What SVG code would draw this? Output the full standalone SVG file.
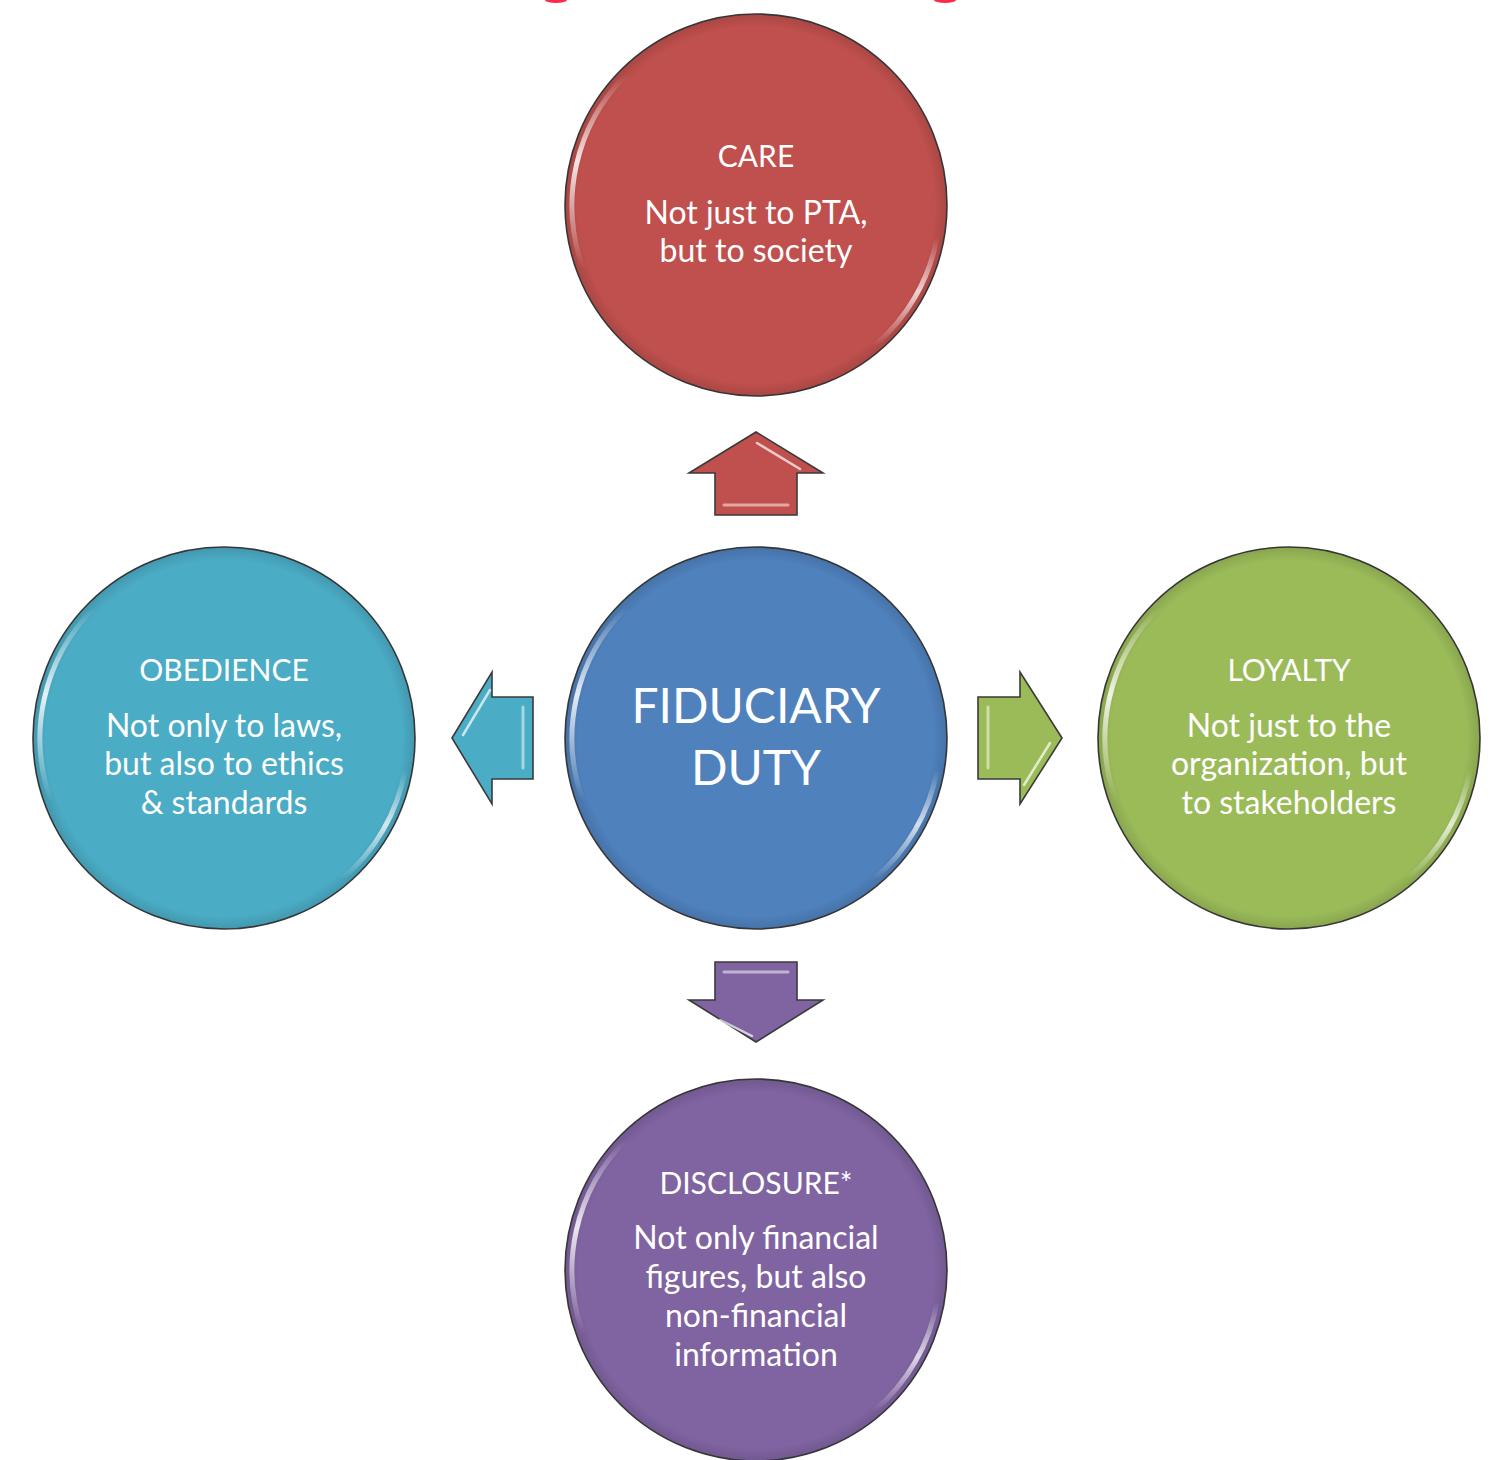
<svg xmlns="http://www.w3.org/2000/svg" width="1491" height="1460" viewBox="0 0 1491 1460">
<defs>
<style>
.ring{stroke:#3a3a3a;stroke-width:1.6}
.t{font-family:Lato,"Open Sans","Liberation Sans",sans-serif;fill:#ffffff;text-anchor:middle}
.h{font-size:30px}
.b{font-size:32px}
.big{font-size:48px}
.arr{stroke:#3a3a3a;stroke-width:1.6;stroke-linejoin:miter}
.hl{fill:none;stroke:#ffffff;stroke-linecap:round}
.gL{fill:none;stroke:url(#gl);stroke-linecap:round}
.gR{fill:none;stroke:url(#gr);stroke-linecap:round}
</style>
<linearGradient id="gl" x1="0" y1="0" x2="0" y2="1">
<stop offset="0" stop-color="#fff" stop-opacity="0"/>
<stop offset="0.45" stop-color="#fff" stop-opacity="0.85"/>
<stop offset="1" stop-color="#fff" stop-opacity="0"/>
</linearGradient>
<linearGradient id="gr" x1="0" y1="0" x2="0" y2="1">
<stop offset="0" stop-color="#fff" stop-opacity="0"/>
<stop offset="0.5" stop-color="#fff" stop-opacity="0.75"/>
<stop offset="1" stop-color="#fff" stop-opacity="0"/>
</linearGradient>
<radialGradient id="rim" cx="0.5" cy="0.5" r="0.5">
<stop offset="0.93" stop-color="#000" stop-opacity="0"/>
<stop offset="1" stop-color="#000" stop-opacity="0.12"/>
</radialGradient>
</defs>
<rect width="1491" height="1460" fill="#ffffff"/>
<ellipse cx="556" cy="0" rx="11" ry="3" fill="#ff2a4a"/>
<ellipse cx="945" cy="0" rx="11" ry="3" fill="#ff2a4a"/>

<g id="connectors">
<g id="arrow-up">
<polygon class="arr" fill="#c0504d" points="756,432 823,473 797,473 797,515 715,515 715,473 689,473"/>
<path class="hl" stroke-width="2.5" opacity="0.7" d="M757,443 L800,469"/>
<path class="hl" stroke-width="3" opacity="0.5" d="M724,505 L788,505"/>
</g>
<g id="arrow-left">
<polygon class="arr" fill="#4bacc6" points="452,738 492,672 492,697 533,697 533,779 492,779 492,804"/>
<path class="hl" stroke-width="2.5" opacity="0.7" d="M463,735 L490,690"/>
<path class="hl" stroke-width="3" opacity="0.5" d="M523,707 L523,768"/>
</g>
<g id="arrow-right">
<polygon class="arr" fill="#9bbb59" points="1062,738 1020,672 1020,697 978,697 978,779 1020,779 1020,804"/>
<path class="hl" stroke-width="2.5" opacity="0.7" d="M1050,743 L1024,785"/>
<path class="hl" stroke-width="3" opacity="0.5" d="M988,707 L988,768"/>
</g>
<g id="arrow-down">
<polygon class="arr" fill="#8064a2" points="756,1042 823,1000 797,1000 797,962 715,962 715,1000 689,1000"/>
<path class="hl" stroke-width="2.5" opacity="0.7" d="M720,1020 L752,1036"/>
<path class="hl" stroke-width="3" opacity="0.5" d="M724,972 L788,972"/>
</g>
</g>

<g id="care">
<circle class="ring" cx="756" cy="205" r="191" fill="#c0504d"/>
<circle cx="756" cy="205" r="191" fill="url(#rim)"/>
<path class="gL" stroke-width="5" d="M626,75 A184,184 0 0 0 583,268"/>
<path class="gR" stroke-width="5" d="M937,237 A184,184 0 0 1 874,346"/>
<text class="t h" x="756" y="167">CARE</text>
<text class="t b" x="756" y="224">Not just to PTA,</text>
<text class="t b" x="756" y="262">but to society</text>
</g>

<g id="fiduciary-duty">
<circle class="ring" cx="756" cy="738" r="191" fill="#4f81bd"/>
<circle cx="756" cy="738" r="191" fill="url(#rim)"/>
<path class="gL" stroke-width="5" d="M626,608 A184,184 0 0 0 583,801"/>
<path class="gR" stroke-width="5" d="M937,770 A184,184 0 0 1 874,879"/>
<text class="t big" x="756" y="723">FIDUCIARY</text>
<text class="t big" x="756" y="785">DUTY</text>
</g>

<g id="obedience">
<circle class="ring" cx="224" cy="738" r="191" fill="#4bacc6"/>
<circle cx="224" cy="738" r="191" fill="url(#rim)"/>
<path class="gL" stroke-width="5" d="M94,608 A184,184 0 0 0 51,801"/>
<path class="gR" stroke-width="5" d="M405,770 A184,184 0 0 1 342,879"/>
<text class="t h" x="224" y="681">OBEDIENCE</text>
<text class="t b" x="224" y="737">Not only to laws,</text>
<text class="t b" x="224" y="775">but also to ethics</text>
<text class="t b" x="224" y="814">&amp; standards</text>
</g>

<g id="loyalty">
<circle class="ring" cx="1289" cy="738" r="191" fill="#9bbb59"/>
<circle cx="1289" cy="738" r="191" fill="url(#rim)"/>
<path class="gL" stroke-width="5" d="M1159,608 A184,184 0 0 0 1116,801"/>
<path class="gR" stroke-width="5" d="M1470,770 A184,184 0 0 1 1407,879"/>
<text class="t h" x="1289" y="681">LOYALTY</text>
<text class="t b" x="1289" y="737">Not just to the</text>
<text class="t b" x="1289" y="775">organization, but</text>
<text class="t b" x="1289" y="814">to stakeholders</text>
</g>

<g id="disclosure">
<circle class="ring" cx="756" cy="1270" r="191" fill="#8064a2"/>
<circle cx="756" cy="1270" r="191" fill="url(#rim)"/>
<path class="gL" stroke-width="5" d="M626,1140 A184,184 0 0 0 583,1333"/>
<path class="gR" stroke-width="5" d="M937,1302 A184,184 0 0 1 874,1411"/>
<text class="t h" x="756" y="1194">DISCLOSURE*</text>
<text class="t b" x="756" y="1249">Not only financial</text>
<text class="t b" x="756" y="1288">figures, but also</text>
<text class="t b" x="756" y="1327">non-financial</text>
<text class="t b" x="756" y="1366">information</text>
</g>
</svg>
